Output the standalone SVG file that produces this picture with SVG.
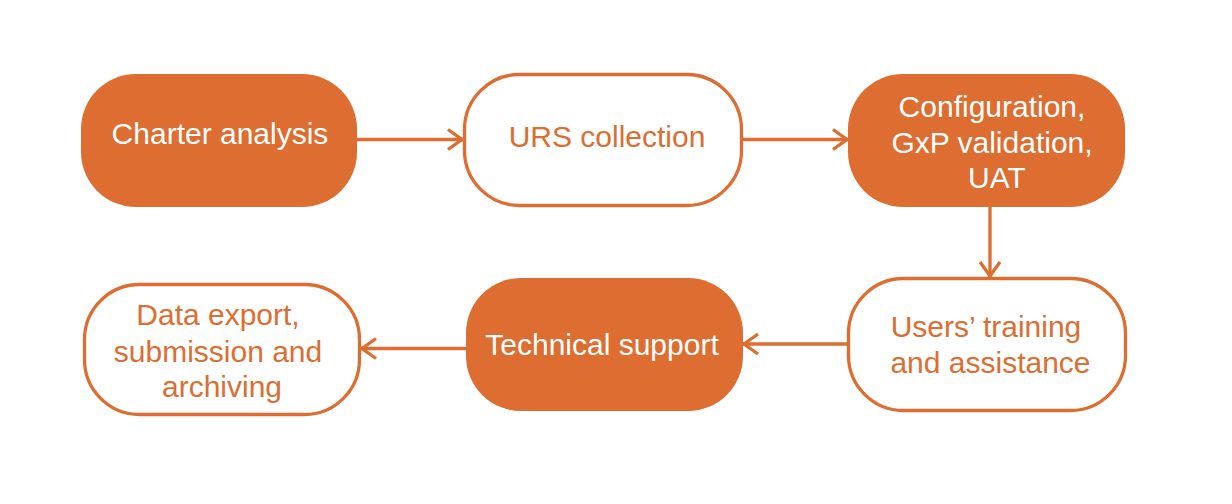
<svg xmlns="http://www.w3.org/2000/svg" width="1232" height="504" viewBox="0 0 1232 504">
<style>
.fill{fill:#DD6D31;stroke:none}
.out{fill:#FFFFFF;stroke:#DD6D31;stroke-width:3.3}
.tw{font-family:"Liberation Sans",Arial,sans-serif;font-size:30px;fill:#FFFFFF;text-anchor:middle}
.to{font-family:"Liberation Sans",Arial,sans-serif;font-size:30px;fill:#DD6D31;text-anchor:middle}
.conn{stroke:#DD6D31;stroke-width:3.3;fill:none}
</style>
<defs>
<marker id="arr" markerUnits="userSpaceOnUse" markerWidth="24" markerHeight="28" viewBox="0 0 24 28" refX="20" refY="14" orient="auto">
<path d="M5,4 L19,14 L5,24" fill="none" stroke="#DD6D31" stroke-width="3.3"/>
</marker>
</defs>
<rect width="1232" height="504" fill="#FFFFFF"/>
<g id="connectors">
<line class="conn" x1="357" y1="139.5" x2="463" y2="139.5" marker-end="url(#arr)"/>
<line class="conn" x1="743" y1="139.5" x2="848" y2="139.5" marker-end="url(#arr)"/>
<line class="conn" x1="990" y1="207" x2="990" y2="277" marker-end="url(#arr)"/>
<line class="conn" x1="847" y1="344" x2="743" y2="344" marker-end="url(#arr)"/>
<line class="conn" x1="466" y1="348.5" x2="361" y2="348.5" marker-end="url(#arr)"/>
</g>
<g id="n1">
<rect class="fill" x="81" y="74" width="276" height="133" rx="55" ry="55"/>
<text class="tw" x="220" y="144">Charter analysis</text>
</g>
<g id="n2">
<rect class="out" x="464.5" y="74.5" width="277" height="131" rx="55" ry="55"/>
<text class="to" x="607" y="147">URS collection</text>
</g>
<g id="n3">
<rect class="fill" x="848" y="74" width="277" height="133" rx="55" ry="55"/>
<text class="tw" x="992" y="117">Configuration,</text>
<text class="tw" x="992" y="153">GxP validation,</text>
<text class="tw" x="997" y="188">UAT</text>
</g>
<g id="n4">
<rect class="out" x="848.5" y="278.5" width="277" height="132" rx="55" ry="55"/>
<text class="to" x="986" y="337">Users’ training</text>
<text class="to" x="990.5" y="373">and assistance</text>
</g>
<g id="n5">
<rect class="fill" x="466" y="278" width="277" height="133" rx="55" ry="55"/>
<text class="tw" x="602" y="355">Technical support</text>
</g>
<g id="n6">
<rect class="out" x="84.5" y="284.5" width="275" height="130" rx="55" ry="55"/>
<text class="to" x="218" y="325">Data export,</text>
<text class="to" x="218" y="362">submission and</text>
<text class="to" x="222" y="397">archiving</text>
</g>
</svg>
